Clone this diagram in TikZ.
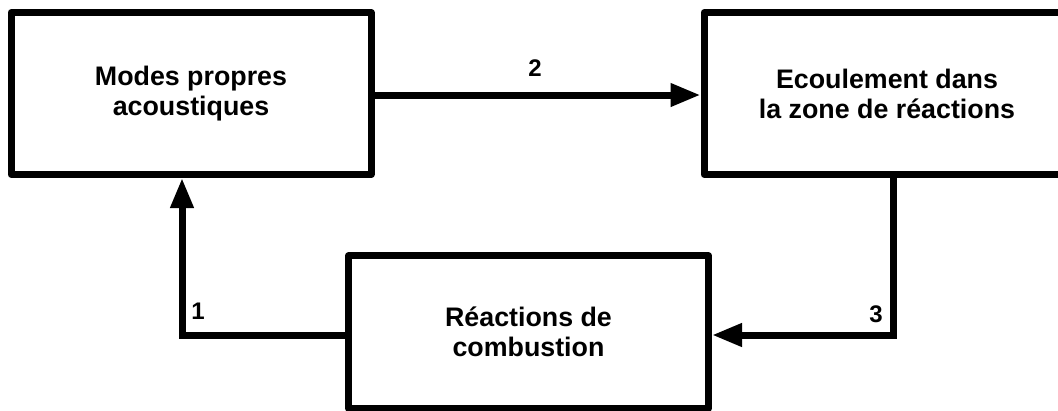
\documentclass[tikz,border=0pt]{standalone}
\usepackage{fontspec}
\setmainfont{Liberation Sans}
\usetikzlibrary{arrows.meta}
\begin{document}
\begin{tikzpicture}[x=1pt, y=-1pt,
  block/.style={draw, line width=7pt, line join=round, fill=white,
    align=center, inner sep=0pt,
    font=\fontsize{26.8}{30}\selectfont\bfseries},
  flow/.style={line width=7pt, -{Triangle[length=30pt, width=22pt]}},
  num/.style={font=\fontsize{24}{28}\selectfont\bfseries, inner sep=0pt}]
  \useasboundingbox (0,0) rectangle (1058,410);

  % the three blocks of the loop
  \node[block, minimum width=360pt, minimum height=162pt] (modes) at (191,93.5)
    {Modes propres\\acoustiques};
  \node[block, minimum width=366pt, minimum height=162pt] (flowzone) at (887,93.5)
    {Ecoulement dans\\la zone de réactions};
  \node[block, minimum width=360pt, minimum height=152.5pt] (comb) at (528.5,332)
    {Réactions de\\combustion};

  % bends and levels of the connectors
  \coordinate (lvltwo) at (0,95);
  \coordinate (bendone) at (182,335);
  \coordinate (bendthree) at (893,335);

  % connectors
  \draw[flow] (modes.east |- lvltwo) -- (flowzone.west |- lvltwo);
  \draw[flow] (flowzone.south -| bendthree) -- (bendthree) -- (comb.east |- bendthree);
  \draw[flow] (comb.west |- bendone) -- (bendone) -- (modes.south -| bendone);

  % connector numbers
  \node[num] (ltwo) at (535,68) {2};
  \node[num] (lone) at (198,311) {1};
  \node[num] (lthree) at (876,314) {3};
\end{tikzpicture}
\end{document}
